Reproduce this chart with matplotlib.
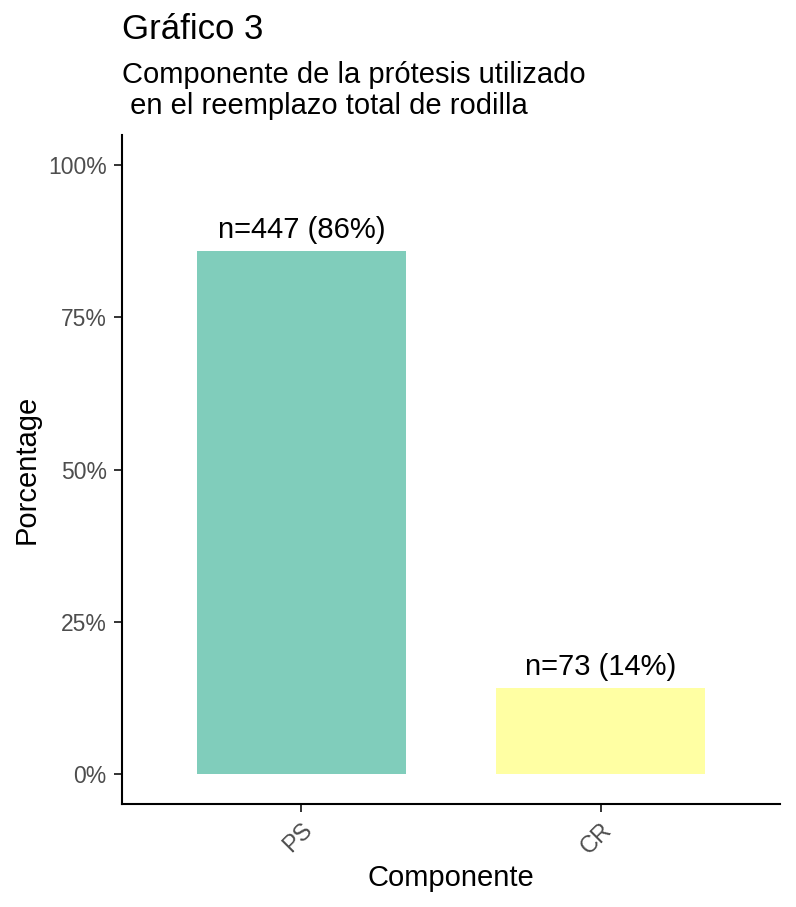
import matplotlib
matplotlib.use("Agg")
import matplotlib.pyplot as plt
import numpy as np

categories = ["PS", "CR"]
counts = [447, 73]
colors = ["#80CDBB", "#FFFFA3"]
yticks = [0, 25, 50, 75, 100]
ytick_labels = ["0%", "25%", "50%", "75%", "100%"]

plt.rcParams['font.family'] = ['Liberation Sans', 'DejaVu Sans']

total = sum(counts)
pcts = [c / total * 100 for c in counts]

fig = plt.figure(figsize=(7.96, 9.07), dpi=100)
ax = fig.add_axes([122/796, 1 - 804/907, (780-122)/796, (804-135)/907])

x = np.arange(1, len(categories) + 1)
ax.bar(x, pcts, width=0.7, color=colors)
for xi, p, c in zip(x, pcts, counts):
    ax.annotate(f"n={c} ({p:.0f}%)", (xi, p), xytext=(0, 5), textcoords="offset points",
                ha="center", va="bottom", fontsize=21, color="black")

ax.set_xlim(0.4, 2.6)
ax.set_ylim(-5, 105)
ax.set_xticks(x)
ax.set_xticklabels(categories, rotation=45, ha="right", va="top", rotation_mode="anchor",
                   fontsize=17, color="#4D4D4D")
ax.set_yticks(yticks)
ax.set_yticklabels(ytick_labels, fontsize=16.5, color="#4D4D4D")
ax.tick_params(axis="both", length=6, width=1.4, color="#333333", pad=5)
for s in ["top", "right"]:
    ax.spines[s].set_visible(False)
for s in ["left", "bottom"]:
    ax.spines[s].set_linewidth(1.5)
    ax.spines[s].set_color("black")

ax.set_xlabel("Componente", fontsize=21, labelpad=4)
ax.set_ylabel("Porcentage", fontsize=21, labelpad=5)

fig.text(122/796, 1 - 39/907, "Gráfico 3", fontsize=25, ha="left", va="baseline")
fig.text(122/796, 1 - 83/907, "Componente de la prótesis utilizado",
         fontsize=21, ha="left", va="baseline")
fig.text(122/796, 1 - 114/907, " en el reemplazo total de rodilla",
         fontsize=21, ha="left", va="baseline")

fig.savefig("out.png", dpi=100)
